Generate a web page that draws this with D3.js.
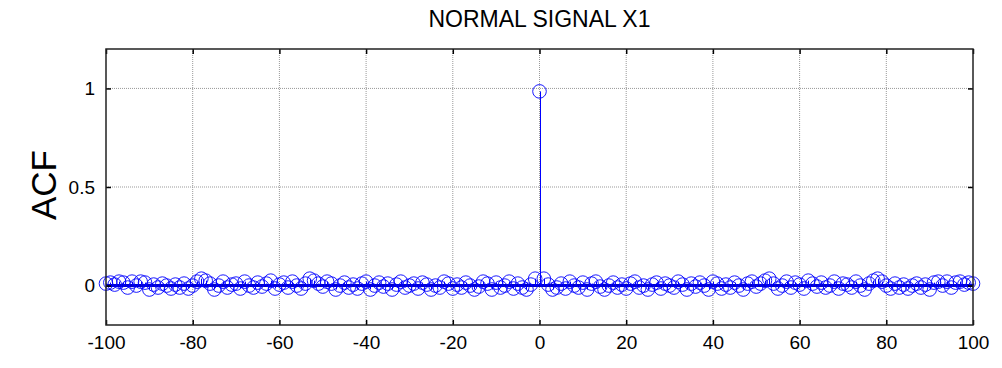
<!DOCTYPE html>
<html>
<head>
<meta charset="utf-8">
<script src="https://cdn.jsdelivr.net/npm/d3@7"></script>
<style>
  body { margin: 0; background: #fff; }
  text { font-family: "Liberation Sans", Arial, sans-serif; }
</style>
</head>
<body>
<div id="chart"></div>
<script>
// lags -100 .. 100
const lagMin = -100;
const acfValues = [
  0.01, 0.015, 0.005, 0.02, 0.015, -0.01, 0.02, 0.0, 0.02, 0.015,
  -0.02, 0.005, -0.01, 0.01, 0.0, -0.015, 0.005, -0.01, 0.01, -0.015,
  0.0, 0.02, 0.035, 0.025, 0.01, -0.02, 0.0, 0.02, -0.01, 0.005,
  0.01, -0.015, 0.02, 0.0, -0.01, 0.015, -0.005, 0.01, 0.025, -0.015,
  0.005, 0.015, -0.01, 0.02, 0.0, -0.015, 0.01, 0.035, 0.025, 0.01,
  -0.005, 0.02, 0.01, -0.02, 0.0, 0.015, -0.01, 0.005, -0.015, 0.01,
  0.02, -0.02, 0.0, 0.015, -0.005, 0.01, -0.02, 0.005, 0.02, -0.01,
  0.0, 0.01, -0.015, 0.015, 0.005, -0.02, 0.0, -0.01, 0.02, 0.01,
  -0.015, 0.005, -0.01, 0.015, 0.0, -0.02, -0.005, 0.02, 0.01, -0.02,
  0.015, -0.01, 0.0, 0.02, -0.015, 0.01, -0.01, -0.02, 0.005, 0.035,
  0.985,
  0.035, 0.005, -0.02, -0.01, 0.01, -0.015, 0.02, 0.0, -0.01, 0.015,
  -0.02, 0.01, 0.02, -0.005, -0.02, 0.0, 0.015, -0.01, 0.005, -0.015,
  0.01, 0.02, -0.01, 0.0, -0.02, 0.005, 0.015, -0.015, 0.01, 0.0,
  -0.01, 0.02, 0.005, -0.02, 0.01, -0.005, 0.015, 0.0, -0.02, 0.02,
  0.01, -0.015, 0.005, -0.01, 0.015, 0.0, -0.02, 0.01, 0.02, -0.005,
  0.01, 0.025, 0.035, 0.01, -0.015, 0.0, 0.02, -0.01, 0.015, 0.005,
  -0.015, 0.025, 0.01, -0.005, 0.015, -0.01, 0.0, 0.02, -0.015, 0.01,
  0.005, -0.01, 0.02, 0.0, -0.02, 0.01, 0.025, 0.035, 0.02, 0.0,
  -0.015, 0.01, -0.01, 0.005, -0.015, 0.0, 0.01, -0.01, 0.005, -0.02,
  0.015, 0.02, 0.0, 0.02, -0.01, 0.015, 0.02, 0.005, 0.015, 0.01
];
const xTicks = [-100, -80, -60, -40, -20, 0, 20, 40, 60, 80, 100];
const yTicks = [0, 0.5, 1];
const titleText = "NORMAL SIGNAL X1";
const yLabelText = "ACF";

const width = 1002, height = 368;
const margin = { top: 49, right: 29, bottom: 43, left: 106 };
const w = width - margin.left - margin.right;
const h = height - margin.top - margin.bottom;

const points = acfValues.map((v, i) => ({ X: lagMin + i, Y: v }));

const svg = d3.select("#chart").append("svg")
    .attr("width", width)
    .attr("height", height);

const g = svg.append("g")
    .attr("transform", "translate(" + margin.left + "," + margin.top + ")");

const xScale = d3.scaleLinear().domain([-100, 100]).range([0, w]);
const yScale = d3.scaleLinear().domain([-0.2, 1.2]).range([h, 0]);

// grid
g.append("g").selectAll("line")
    .data(xTicks.slice(1, -1))
    .join("line")
    .attr("x1", d => xScale(d)).attr("x2", d => xScale(d))
    .attr("y1", 0).attr("y2", h)
    .attr("stroke", "#999").attr("stroke-dasharray", "1,1");

g.append("g").selectAll("line")
    .data(yTicks)
    .join("line")
    .attr("x1", 0).attr("x2", w)
    .attr("y1", d => yScale(d)).attr("y2", d => yScale(d))
    .attr("stroke", "#999").attr("stroke-dasharray", "1,1");

// stems + baseline
const blue = "#0000ff";
g.append("line")
    .attr("x1", xScale(-100)).attr("x2", xScale(100))
    .attr("y1", yScale(0)).attr("y2", yScale(0))
    .attr("stroke", "#0000c8").attr("stroke-width", 3);

g.append("g").selectAll("line")
    .data(points)
    .join("line")
    .attr("x1", d => Math.round(xScale(d.X)) + 0.5).attr("x2", d => Math.round(xScale(d.X)) + 0.5)
    .attr("y1", yScale(0)).attr("y2", d => yScale(d.Y))
    .attr("stroke", blue).attr("stroke-width", 1);

g.append("g").selectAll("circle")
    .data(points)
    .join("circle")
    .attr("cx", d => xScale(d.X))
    .attr("cy", d => yScale(d.Y))
    .attr("r", 6.8)
    .attr("fill", "none")
    .attr("stroke", blue)
    .attr("stroke-opacity", 0.9)
    .attr("stroke-width", 1);

// axes with inner ticks on all sides
const fmt = d => String(d);
const xAxisB = d3.axisBottom(xScale).tickValues(xTicks).tickSizeInner(-5).tickSizeOuter(0).tickPadding(11).tickFormat(fmt);
const xAxisT = d3.axisTop(xScale).tickValues(xTicks).tickSizeInner(-5).tickSizeOuter(0).tickFormat("");
const yAxisL = d3.axisLeft(yScale).tickValues(yTicks).tickSizeInner(-5).tickSizeOuter(0).tickPadding(11).tickFormat(fmt);
const yAxisR = d3.axisRight(yScale).tickValues(yTicks).tickSizeInner(-5).tickSizeOuter(0).tickFormat("");

function styleAxis(sel) {
    sel.select(".domain").remove();
    sel.selectAll("line").attr("stroke", "#000").attr("stroke-width", 1.5);
    sel.selectAll("text").attr("fill", "#000").style("font-size", "19px")
        .style("font-family", "'Liberation Sans', Arial, sans-serif");
}

g.append("g").attr("transform", "translate(0," + h + ")").call(xAxisB).call(styleAxis);
g.append("g").call(xAxisT).call(styleAxis);
g.append("g").call(yAxisL).call(styleAxis);
g.append("g").attr("transform", "translate(" + w + ",0)").call(yAxisR).call(styleAxis);

// box
g.append("rect")
    .attr("x", 0).attr("y", 0).attr("width", w).attr("height", h)
    .attr("fill", "none").attr("stroke", "#222").attr("stroke-width", 1.5);

svg.append("text")
    .attr("x", margin.left + w / 2)
    .attr("y", 27)
    .attr("text-anchor", "middle")
    .style("font-size", "23px")
    .text(titleText);

svg.append("text")
    .attr("transform", "translate(56," + (margin.top + h / 2 - 2) + ") rotate(-90)")
    .attr("text-anchor", "middle")
    .style("font-size", "35px")
    .text(yLabelText);
</script>
</body>
</html>
